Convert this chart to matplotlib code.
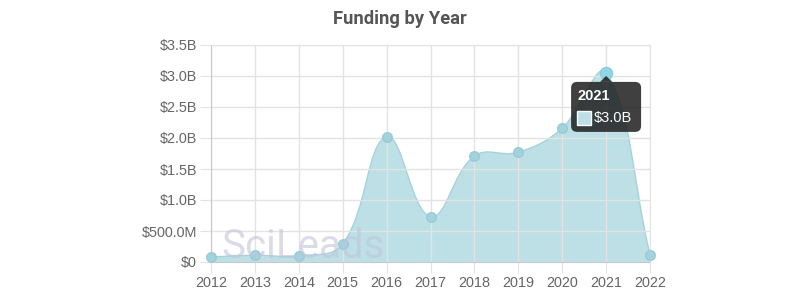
import matplotlib.pyplot as plt
from matplotlib.path import Path
from matplotlib.patches import PathPatch, FancyBboxPatch, Polygon, Rectangle
from matplotlib.transforms import IdentityTransform

years = [2012, 2013, 2014, 2015, 2016, 2017, 2018, 2019, 2020, 2021, 2022]
funding_b = [0.08, 0.11, 0.10, 0.29, 2.02, 0.73, 1.71, 1.77, 2.16, 3.05, 0.12]
y_ticks = [0, 0.5, 1.0, 1.5, 2.0, 2.5, 3.0, 3.5]
y_tick_labels = ['$0', '$500.0M', '$1.0B', '$1.5B', '$2.0B', '$2.5B', '$3.0B', '$3.5B']
tooltip_year = 2021
tooltip_label = '$3.0B'

plt.rcParams['font.family'] = ['Liberation Sans', 'DejaVu Sans']

fig = plt.figure(figsize=(8, 3), dpi=100)
ax = fig.add_axes([211 / 800, 38 / 300, 439 / 800, 217 / 300])
ax.set_xlim(years[0], years[-1])
ax.set_ylim(0, 3.5)

# pixel scale, used for the chart.js-like spline
sx = 439 / (years[-1] - years[0])
sy = 217 / 3.5


def spline_path(xs, ys, t=0.4):
    n = len(xs)
    ctrl = []
    for i in range(n):
        px, py = (xs[i - 1], ys[i - 1]) if i > 0 else (xs[i], ys[i])
        nx, ny = (xs[i + 1], ys[i + 1]) if i < n - 1 else (xs[i], ys[i])
        d01 = (((xs[i] - px) * sx) ** 2 + ((ys[i] - py) * sy) ** 2) ** 0.5
        d12 = (((nx - xs[i]) * sx) ** 2 + ((ny - ys[i]) * sy) ** 2) ** 0.5
        tot = d01 + d12 if d01 + d12 > 0 else 1
        fa = t * d01 / tot
        fb = t * d12 / tot
        prev_c = (xs[i] - fa * (nx - px), max(0, ys[i] - fa * (ny - py)))
        next_c = (xs[i] + fb * (nx - px), max(0, ys[i] + fb * (ny - py)))
        ctrl.append((prev_c, next_c))
    verts = [(xs[0], ys[0])]
    codes = [Path.MOVETO]
    for i in range(1, n):
        verts += [ctrl[i - 1][1], ctrl[i][0], (xs[i], ys[i])]
        codes += [Path.CURVE4] * 3
    return verts, codes


verts, codes = spline_path(years, funding_b)
fill_verts = verts + [(years[-1], 0), (years[0], 0), (years[0], funding_b[0])]
fill_codes = codes + [Path.LINETO, Path.LINETO, Path.LINETO]

ax.add_patch(PathPatch(Path(fill_verts, fill_codes), facecolor='#7fc4d0', alpha=0.52,
                       edgecolor='none', zorder=1))
ax.add_patch(PathPatch(Path(verts, codes), facecolor='none', edgecolor='#a6d3db',
                       lw=1, zorder=2))

others = [i for i, y in enumerate(years) if y != tooltip_year]
ax.scatter([years[i] for i in others], [funding_b[i] for i in others], s=48,
           color='#a2d2db', edgecolor='#97cbd5', lw=1, zorder=4, clip_on=False)
ax.scatter([tooltip_year], [funding_b[years.index(tooltip_year)]], s=75,
           color='#92d5e4', edgecolor='#84cddd', lw=1, zorder=5, clip_on=False)

ax.set_yticks(y_ticks)
ax.set_yticklabels(y_tick_labels)
ax.set_xticks(years)
ax.set_xticklabels([str(y) for y in years])
ax.grid(True, color='#e3e3e3', lw=1, zorder=3)
ax.set_axisbelow(False)
ax.tick_params(length=8, color='#e3e3e3', labelsize=10.4, labelcolor='#666666', pad=2)
for s in ['top', 'right']:
    ax.spines[s].set_color('#e3e3e3')
for s in ['left', 'bottom']:
    ax.spines[s].set_color('#c8c8c8')
for s in ax.spines.values():
    s.set_zorder(3)

# watermark
ax.text(2014.1, 0.25, 'SciLeads', fontsize=29, color='#c4c4da', alpha=0.6,
        family='Roboto', ha='center', va='center', zorder=6)

fig.text(0.5, 0.937, 'Funding by Year', ha='center', va='center', fontsize=13.2,
         family='Roboto', fontweight='bold', color='#555555')

# tooltip in pixel coords
ident = IdentityTransform()
axx, axy = ax.transData.transform((tooltip_year, funding_b[years.index(tooltip_year)]))
tip_y = axy - 3
bx0, bx1 = axx - 35, axx + 35
by1 = tip_y - 6
by0 = by1 - 50
fig.patches.append(FancyBboxPatch((bx0, by0), bx1 - bx0, by1 - by0,
                                  boxstyle='round,pad=0,rounding_size=6',
                                  facecolor='#1e1e1e', alpha=0.85, edgecolor='none',
                                  transform=ident, figure=fig))
fig.patches.append(Polygon([(axx - 6, by1), (axx + 6, by1), (axx, tip_y)],
                           closed=True, facecolor='#1e1e1e', alpha=0.85,
                           edgecolor='none', transform=ident, figure=fig))
fig.text((bx0 + 6) / 800, (by1 - 14) / 300, str(tooltip_year), color='white',
         fontsize=10.5, fontweight='bold', va='center', ha='left')
fig.patches.append(Rectangle((bx0 + 6, by0 + 7), 14, 14, facecolor='#bde0e7',
                             edgecolor='white', lw=1, transform=ident, figure=fig))
fig.text((bx0 + 23) / 800, (by0 + 14) / 300, tooltip_label, color='white',
         fontsize=10.5, va='center', ha='left')

fig.savefig('out.png', dpi=100)
